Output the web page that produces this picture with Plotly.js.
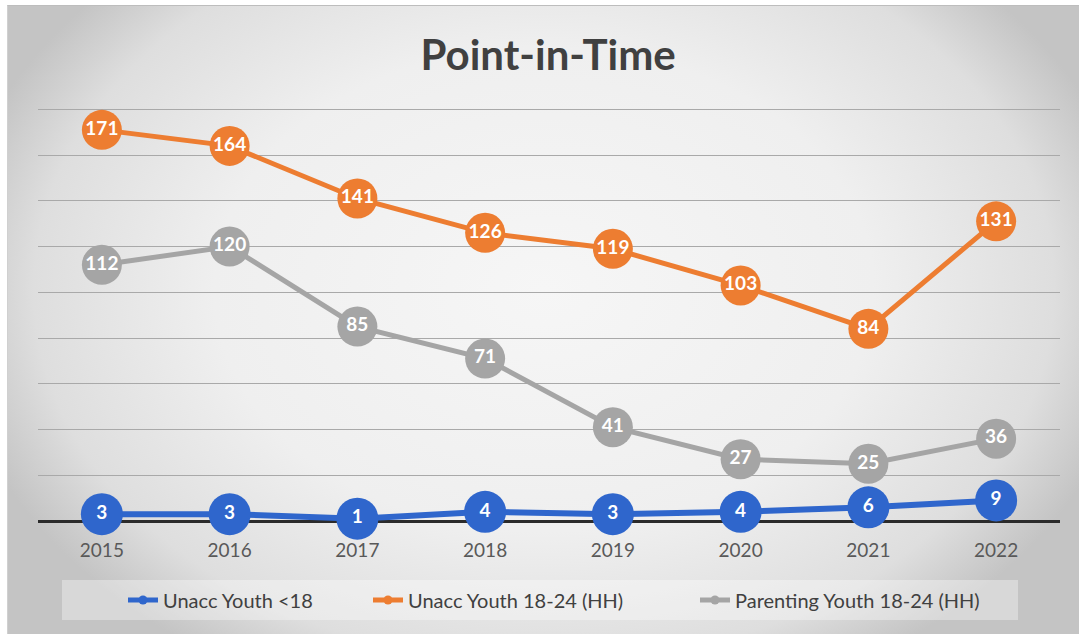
<!DOCTYPE html>
<html>
<head>
<meta charset="utf-8">
<script src="https://cdn.plot.ly/plotly-3.0.1.min.js"></script>
<style>
  html, body { margin: 0; padding: 0; background: #ffffff; }
  #bg {
    position: absolute; left: 7px; top: 5px; width: 1072px; height: 629px;
    background: radial-gradient(ellipse 56% 70% at 50% 45%, #f6f6f6 0%, #efefef 55%, #dedede 85%, #c4c4c4 100%);
    border-top: 1px solid #bdbdbd;
    border-left: 1px solid #d0d0d0;
  }
  #chart { position: absolute; left: 0; top: 0; width: 1079px; height: 634px; }
</style>
</head>
<body>
<div id="bg"></div>
<div id="chart"></div>
<script>
const years = ['2015', '2016', '2017', '2018', '2019', '2020', '2021', '2022'];
const unaccUnder18 = [3, 3, 1, 4, 3, 4, 6, 9];
const unacc1824 = [171, 164, 141, 126, 119, 103, 84, 131];
const parenting1824 = [112, 120, 85, 71, 41, 27, 25, 36];
const seriesNames = ['Unacc Youth <18', 'Unacc Youth 18-24 (HH)', 'Parenting Youth 18-24 (HH)'];
const seriesColors = ['#2f66cc', '#ed7d31', '#a5a5a5'];

const seriesValues = [unaccUnder18, unacc1824, parenting1824];
const drawOrder = [2, 1, 0];
const legendIds = ['legend', 'legend2', 'legend3'];

const traces = [];
drawOrder.forEach(i => {
  traces.push({
    x: years, y: seriesValues[i], type: 'scatter', mode: 'lines+markers+text',
    name: seriesNames[i], showlegend: false, cliponaxis: false,
    line: { color: seriesColors[i], width: i === 0 ? 6 : 5 },
    marker: { color: seriesColors[i], size: i === 0 ? 42 : 40, line: { width: 0 } },
    text: seriesValues[i].map(String), textposition: 'middle center',
    textfont: { family: 'Lato, sans-serif', size: 19, color: '#ffffff', weight: 'bold' },
    hoverinfo: 'x+y+name'
  });
});
// legend entries
[0, 1, 2].forEach(i => {
  traces.push({
    x: [null], y: [null], type: 'scatter', mode: 'lines+markers',
    name: seriesNames[i], showlegend: true, legend: legendIds[i],
    line: { color: seriesColors[i], width: 5 },
    marker: { color: seriesColors[i], size: 9 }
  });
});

const legendFont = { family: 'Lato, sans-serif', size: 20, color: '#404040' };
const legendTextStarts = [163, 408, 735];
function mkLegend(px) {
  return {
    orientation: 'h', xref: 'container', x: (px - 40) / 1079, xanchor: 'left',
    yref: 'container', y: 1 - 600 / 634, yanchor: 'middle',
    bgcolor: 'rgba(0,0,0,0)', font: legendFont, itemwidth: 30
  };
}

const plotH = 634 - 107 - 113;
const layout = {
  width: 1079, height: 634,
  paper_bgcolor: 'rgba(0,0,0,0)', plot_bgcolor: 'rgba(0,0,0,0)',
  margin: { l: 38, r: 19, t: 107, b: 113 },
  title: {
    text: 'Point-in-Time', x: 0.508, xanchor: 'center', y: 1 - 55 / 634, yanchor: 'middle',
    font: { family: 'Lato, sans-serif', size: 42, color: '#404040', weight: 'bold' }
  },
  xaxis: {
    type: 'category', range: [-0.5, 7.5], showgrid: false, zeroline: false,
    showline: false, ticks: '', ticklabelstandoff: 16,
    tickfont: { family: 'Lato, sans-serif', size: 19, color: '#595959' }
  },
  yaxis: {
    range: [0, 181], tick0: 0, dtick: 20, showticklabels: false, ticks: '',
    showgrid: true, gridcolor: '#a9a9a9', gridwidth: 1,
    zeroline: true, zerolinecolor: '#2b2b2b', zerolinewidth: 3, showline: false
  },
  showlegend: true,
  legend: mkLegend(legendTextStarts[0]),
  legend2: mkLegend(legendTextStarts[1]),
  legend3: mkLegend(legendTextStarts[2]),
  shapes: [{
    type: 'rect', xref: 'paper', yref: 'paper', layer: 'below',
    x0: (62 - 38) / 1022, x1: (1018 - 38) / 1022,
    y0: (521 - 580) / plotH, y1: (521 - 620) / plotH,
    fillcolor: 'rgba(255,255,255,0.35)', line: { width: 0 }
  }],
  hovermode: 'closest'
};

Plotly.newPlot('chart', traces, layout, { displayModeBar: false });
</script>
</body>
</html>
